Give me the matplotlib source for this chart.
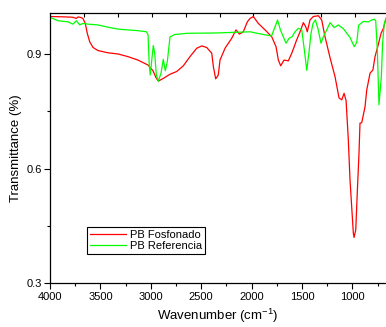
import numpy as np
import matplotlib
matplotlib.use("Agg")
import matplotlib.pyplot as plt
from matplotlib.ticker import MultipleLocator

plt.rcParams['font.family'] = ['Liberation Sans', 'DejaVu Sans']
plt.rcParams['mathtext.fontset'] = 'custom'
plt.rcParams['mathtext.rm'] = 'Liberation Sans'
plt.rcParams['mathtext.default'] = 'regular'

# PB Fosfonado (red)
wn_fosf = [4000, 3850, 3772, 3740, 3720, 3690, 3673, 3650, 3630, 3606, 3573, 3524,
           3424, 3325, 3226, 3127, 3027, 2978, 2948, 2925, 2876, 2809, 2743, 2677,
           2611, 2544, 2495, 2445, 2395, 2379, 2356, 2330, 2313, 2263, 2197, 2154,
           2121, 2082, 2042, 2015, 1982, 1933, 1866, 1800, 1757, 1734, 1711, 1678,
           1635, 1601, 1552, 1519, 1486, 1462, 1447, 1420, 1387, 1337, 1304, 1271,
           1221, 1172, 1132, 1105, 1082, 1062, 1040, 1023, 990, 983, 966, 950,
           934, 924, 907, 874, 857, 824, 796, 775, 748, 715, 692, 666]
t_fosf = [0.998, 0.997, 0.996, 0.993, 0.997, 0.995, 0.993, 0.980, 0.954, 0.932, 0.917, 0.909,
          0.903, 0.900, 0.893, 0.884, 0.871, 0.856, 0.838, 0.829, 0.836, 0.847, 0.854, 0.869,
          0.893, 0.915, 0.921, 0.917, 0.902, 0.867, 0.835, 0.845, 0.884, 0.915, 0.941, 0.963,
          0.952, 0.958, 0.984, 0.993, 0.998, 0.980, 0.963, 0.945, 0.919, 0.884, 0.869, 0.884,
          0.882, 0.902, 0.937, 0.958, 0.982, 0.971, 0.958, 0.989, 0.998, 1.000, 0.989, 0.945,
          0.890, 0.841, 0.785, 0.780, 0.797, 0.778, 0.676, 0.570, 0.431, 0.420, 0.440, 0.544,
          0.640, 0.719, 0.720, 0.762, 0.806, 0.850, 0.858, 0.893, 0.919, 0.954, 0.967, 0.993]

# PB Referencia (green)
wn_ref = [4000, 3921, 3821, 3772, 3739, 3705, 3673, 3623, 3524, 3424, 3325, 3226,
          3127, 3042, 3027, 3015, 3005, 2988, 2975, 2961, 2945, 2925, 2898, 2876,
          2856, 2836, 2809, 2759, 2643, 2346, 2015, 1866, 1802, 1767, 1742, 1714,
          1685, 1658, 1628, 1598, 1569, 1536, 1502, 1476, 1452, 1430, 1410, 1390,
          1367, 1340, 1311, 1288, 1254, 1221, 1180, 1139, 1089, 1023, 981, 956,
          938, 891, 841, 807, 782, 768, 752, 736, 712, 700, 683, 666]
t_ref = [0.996, 0.987, 0.984, 0.978, 0.987, 0.976, 0.980, 0.978, 0.976, 0.970, 0.965, 0.963,
         0.961, 0.958, 0.950, 0.870, 0.845, 0.890, 0.922, 0.902, 0.845, 0.829, 0.850, 0.886,
         0.856, 0.880, 0.945, 0.951, 0.954, 0.955, 0.958, 0.950, 0.947, 0.971, 0.989, 0.963,
         0.945, 0.928, 0.941, 0.945, 0.958, 0.967, 0.963, 0.910, 0.857, 0.905, 0.954, 0.980,
         0.989, 0.965, 0.928, 0.945, 0.963, 0.982, 0.969, 0.976, 0.966, 0.943, 0.919, 0.931,
         0.975, 0.985, 0.984, 0.989, 0.991, 0.987, 0.910, 0.767, 0.841, 0.928, 0.980, 0.993]

fig = plt.figure(figsize=(3.86, 3.27), dpi=100)
ax = fig.add_axes([0.1295, 0.1336, 0.8705, 0.8276])

ax.plot(wn_fosf, t_fosf, color='#FF0000', lw=0.9, label='PB Fosfonado')
ax.plot(wn_ref, t_ref, color='#00FF00', lw=0.9, label='PB Referencia')

ax.set_xlim(4000, 666)
ax.set_ylim(0.3, 1.008)
ax.xaxis.set_major_locator(MultipleLocator(500))
ax.xaxis.set_minor_locator(MultipleLocator(250))
ax.yaxis.set_major_locator(MultipleLocator(0.3))
ax.yaxis.set_minor_locator(MultipleLocator(0.15))
ax.yaxis.set_major_formatter(matplotlib.ticker.FormatStrFormatter('%.1f'))
ax.tick_params(which='major', direction='out', length=4, width=0.8, labelsize=8, pad=2)
ax.tick_params(which='minor', direction='out', length=2.5, width=0.8)
ax.spines['right'].set_visible(False)
for s in ['left', 'bottom', 'top']:
    ax.spines[s].set_linewidth(0.9)

# top axis ticks (inward, no labels)
top = ax.secondary_xaxis('top')
top.set_xticks(np.arange(3660, 900, -335.5))
top.tick_params(direction='in', length=3, width=0.8, labeltop=False)
top.spines['top'].set_visible(False)

ax.set_xlabel('Wavenumber (cm$^{-1}$)', fontsize=9.5, labelpad=4)
ax.set_ylabel('Transmittance (%)', fontsize=9.5, labelpad=3)

leg = ax.legend(loc='upper left', bbox_to_anchor=(0.111, 0.209), fontsize=8,
                frameon=True, fancybox=False, edgecolor='black', framealpha=1,
                handlelength=3.2, borderpad=0.25, labelspacing=0.15,
                handletextpad=0.4, borderaxespad=0)
leg.get_frame().set_linewidth(0.8)

fig.savefig('out.png', dpi=100)
